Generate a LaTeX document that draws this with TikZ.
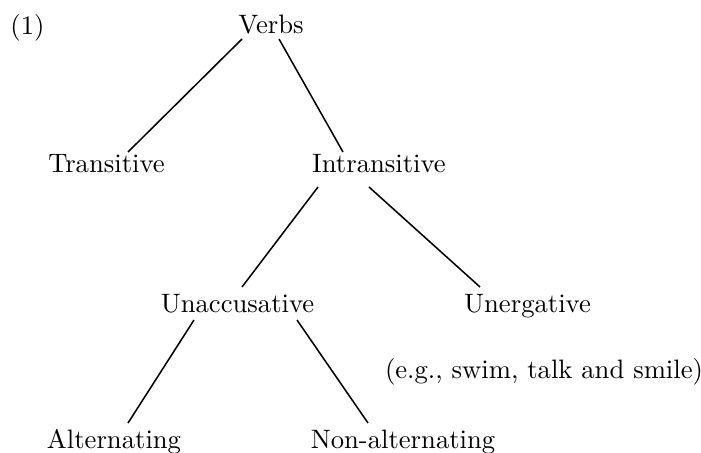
\documentclass[tikz,border=0pt]{standalone}
\usetikzlibrary{calc}
\begin{document}
\begin{tikzpicture}[x=0.392pt,y=-0.392pt,
  lbl/.style={anchor=base,inner sep=0pt,font=\fontsize{10.45}{12.5}\selectfont},
  edge/.style={draw=black,line width=0.6pt}]
\useasboundingbox (0,0) rectangle (701,452);
\node[lbl] (ex) at (27.5,35) {(1)};
\node[lbl] (v) at (271,34) {Verbs};
\node[lbl] (t) at (106.5,172) {Transitive};
\node[lbl] (i) at (379,172) {Intransitive};
\node[lbl] (u) at (237.5,312) {Unaccusative};
\node[lbl] (ue) at (527.5,312) {Unergative};
\node[lbl] (eg) at (544,378) {(e.g., swim, talk and smile)};
\node[lbl] (alt) at (114,448) {Alternating};
\node[lbl] (non) at (403,448) {Non-alternating};
\draw[edge] ($(v.base)+(-29,5)$) -- ($(t.base)+(21.5,-20)$);
\draw[edge] ($(v.base)+(8,5)$) -- ($(i.base)+(-36,-20)$);
\draw[edge] ($(i.base)+(-61,15)$) -- ($(u.base)+(4.5,-25)$);
\draw[edge] ($(i.base)+(-10,15)$) -- ($(ue.base)+(-47.5,-25)$);
\draw[edge] ($(u.base)+(-43.5,8)$) -- ($(alt.base)+(14,-25)$);
\draw[edge] ($(u.base)+(59.5,8)$) -- ($(non.base)+(-35,-25)$);
\end{tikzpicture}
\end{document}
